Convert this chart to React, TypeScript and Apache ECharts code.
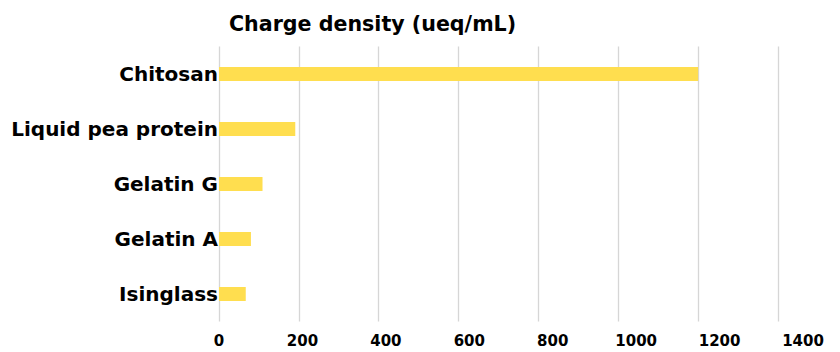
import React, { useEffect, useRef } from "react";
import * as echarts from "echarts";

const categories = ["Chitosan", "Liquid pea protein", "Gelatin G", "Gelatin A", "Isinglass"];
const chargeDensity = [1200, 191, 109, 80, 67];
const tickMin = 0;
const tickMax = 1400;
const tickStep = 200;
const titleText = "Charge density (ueq/mL)";

const FONT = "'DejaVu Sans', sans-serif";

export default function App() {
  const ref = useRef<HTMLDivElement>(null);

  useEffect(() => {
    if (!ref.current) return;
    const chart = echarts.init(ref.current, null, { renderer: "svg" });
    chart.setOption({
      animation: false,
      backgroundColor: "#ffffff",
      title: {
        text: titleText,
        left: 224,
        top: 8,
        textStyle: { fontFamily: FONT, fontWeight: "bold", fontSize: 20.6, color: "#000" },
      },
      grid: [
        { left: 219, right: 62, top: 46.5, bottom: 30.5, containLabel: false },
        { left: 219, right: 37, top: 46.5, bottom: 30.5, containLabel: false },
      ],
      xAxis: [
        {
          type: "value",
          gridIndex: 0,
          min: tickMin,
          max: tickMax,
          interval: tickStep,
          axisLine: { show: false },
          axisTick: { show: false },
          axisLabel: { show: false },
          splitLine: { show: true, lineStyle: { color: "#d6d6d6", width: 1.3 } },
        },
        {
          type: "value",
          gridIndex: 1,
          min: tickMin,
          max: tickMax,
          interval: tickStep,
          axisLine: { show: false },
          axisTick: { show: false },
          splitLine: { show: false },
          axisLabel: {
            show: true,
            margin: 12,
            fontFamily: FONT,
            fontWeight: "bold",
            fontSize: 15,
            color: "#000",
            formatter: (v: number) => String(v),
          },
        },
      ],
      yAxis: [
        {
          type: "category",
          gridIndex: 0,
          data: categories,
          inverse: true,
          axisLine: { show: false },
          axisTick: { show: false },
          splitLine: { show: false },
          axisLabel: {
            margin: 1,
            fontFamily: FONT,
            fontWeight: "bold",
            fontSize: 20,
            color: "#000",
          },
        },
        { type: "value", gridIndex: 1, show: false, min: 0, max: 1 },
      ],
      series: [
        {
          type: "bar",
          xAxisIndex: 0,
          yAxisIndex: 0,
          data: chargeDensity,
          barWidth: 14,
          itemStyle: { color: "#FFDE4F" },
        },
      ],
    });
    return () => chart.dispose();
  }, []);

  return (
    <div
      ref={ref}
      style={{ position: "fixed", left: 0, top: 0, width: 840, height: 352 }}
    />
  );
}
